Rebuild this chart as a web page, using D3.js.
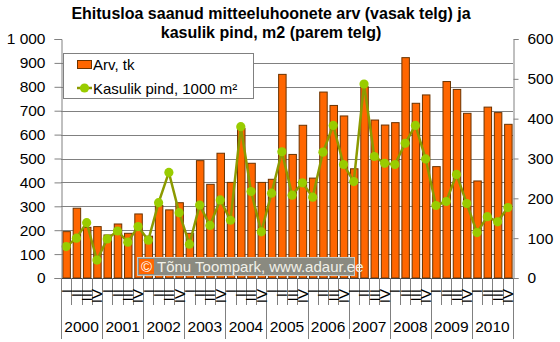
<!DOCTYPE html>
<html>
<head>
<meta charset="utf-8">
<script src="https://cdn.jsdelivr.net/npm/d3@7"></script>
<style>
  html, body { margin: 0; padding: 0; background: #fff; }
  svg { display: block; font-family: Arial, "Liberation Sans", sans-serif; }
</style>
</head>
<body>
<svg id="chart" width="560" height="342"></svg>
<script>
// Quarterly series, 2000–2010
const years = ["2000","2001","2002","2003","2004","2005","2006","2007","2008","2009","2010"];
const quarters = ["I","II","III","IV"];

// Number of non-residential buildings granted a building permit (left axis)
const arv = [
  194, 292, 212, 215,
  180, 226, 187, 268,
  175, 303, 285, 315,
  187, 491, 392, 522,
  400, 626, 480, 400,
  413, 852, 517, 639,
  418, 778, 722, 678,
  457, 800, 661, 640,
  650, 922, 731, 766,
  466, 822, 789, 689,
  406, 715, 692, 643
];

// Useful floor area, thousand m² (right axis)
const pind = [
  79, 100, 139, 45,
  98, 118, 90, 129,
  95, 189, 265, 164,
  85, 183, 132, 196,
  145, 380, 217, 116,
  213, 317, 208, 239,
  203, 316, 383, 285,
  242, 487, 305, 288,
  285, 338, 383, 299,
  182, 192, 260, 187,
  114, 154, 141, 177
];

const leftTicks = [0,100,200,300,400,500,600,700,800,900,1000];
const rightTicks = [0,100,200,300,400,500,600];

const titleLines = ["Ehitusloa saanud mitteeluhoonete arv (vasak telg) ja", "kasulik pind, m2 (parem telg)"];
const legendLabels = ["Arv, tk", "Kasulik pind, 1000 m\u00B2"];
const credit = "T\u00F5nu Toompark, www.adaur.ee";

const svg = d3.select("#chart");
const plot = { left: 61, right: 513, top: 39, bottom: 278 };

const idx = d3.range(arv.length);
const x = d3.scaleBand().domain(idx).range([plot.left, plot.right]).paddingInner(0.27).paddingOuter(0.135);
const yL = d3.scaleLinear().domain([0, 1000]).range([plot.bottom, plot.top]);
const yR = d3.scaleLinear().domain([0, 600]).range([plot.bottom, plot.top]);
const step = (plot.right - plot.left) / arv.length;

// Title
svg.append("g").selectAll("text").data(titleLines).join("text")
  .attr("x", 271).attr("y", (d, i) => 19 + i * 19)
  .attr("text-anchor", "middle")
  .attr("font-size", 16).attr("font-weight", "bold").attr("fill", "#000")
  .text(d => d);

// Horizontal gridlines
svg.append("g").selectAll("line").data(leftTicks.filter(v => v > 0 && v < 1000)).join("line")
  .attr("x1", plot.left).attr("x2", plot.right)
  .attr("y1", d => Math.round(yL(d)) + 0.5).attr("y2", d => Math.round(yL(d)) + 0.5)
  .attr("stroke", "#808080").attr("stroke-width", 1);

// Bars
svg.append("g").selectAll("rect").data(arv).join("rect")
  .attr("x", (d, i) => x(i) + 0.5)
  .attr("y", d => yL(d))
  .attr("width", x.bandwidth())
  .attr("height", d => yL(0) - yL(d))
  .attr("fill", "#ff6600")
  .attr("stroke", "#6b3300").attr("stroke-width", 1);

// Credit box
const cg = svg.append("g");
cg.append("rect").attr("x", 137.5).attr("y", 257.5).attr("width", 217).attr("height", 18)
  .attr("fill", "#8a8a80").attr("stroke", "#c8c8c0").attr("stroke-width", 1);
cg.append("rect").attr("x", 139).attr("y", 259).attr("width", 15).attr("height", 15).attr("fill", "#ff6600");
cg.append("text").attr("x", 146.5).attr("y", 271.5).attr("text-anchor", "middle")
  .attr("font-size", 15).attr("fill", "#fff").text("\u00A9");
cg.append("text").attr("x", 157).attr("y", 272).attr("font-size", 15).attr("fill", "#f0f0e8").text(credit);

// Line series
const line = d3.line().x((d, i) => x(i) + x.bandwidth() / 2).y(d => yR(d));
svg.append("path").datum(pind)
  .attr("d", line).attr("fill", "none")
  .attr("stroke", "#8c9a00").attr("stroke-width", 2.5).attr("stroke-linejoin", "round");
svg.append("g").selectAll("circle").data(pind).join("circle")
  .attr("cx", (d, i) => x(i) + x.bandwidth() / 2)
  .attr("cy", d => yR(d))
  .attr("r", 4.6)
  .attr("fill", "#99cc00");

// Left axis
const axL = svg.append("g").attr("transform", `translate(${plot.left + 0.5},0)`)
  .call(d3.axisLeft(yL).tickValues(leftTicks).tickSize(7).tickPadding(9)
    .tickFormat(d => d3.format(",")(d).replace(",", " ")));
axL.select(".domain").attr("stroke", "#808080");
axL.selectAll(".tick line").attr("stroke", "#808080");
axL.selectAll("text").attr("font-size", 15.5).attr("fill", "#000").attr("font-family", "Arial, 'Liberation Sans', sans-serif");

// Right axis
const axR = svg.append("g").attr("transform", `translate(${plot.right + 0.5},0)`)
  .call(d3.axisRight(yR).tickValues(rightTicks).tickSize(5).tickPadding(9));
axR.select(".domain").attr("stroke", "#808080");
axR.selectAll(".tick line").attr("stroke", "#808080");
axR.selectAll("text").attr("font-size", 15.5).attr("fill", "#000").attr("font-family", "Arial, 'Liberation Sans', sans-serif");

// Category axis: baseline, quarter ticks, year separators
const xg = svg.append("g");
xg.append("line").attr("x1", plot.left).attr("x2", plot.right + 1)
  .attr("y1", plot.bottom + 0.5).attr("y2", plot.bottom + 0.5).attr("stroke", "#404040");
xg.selectAll("line.q").data(d3.range(arv.length + 1)).join("line").attr("class", "q")
  .attr("x1", d => Math.round(plot.left + d * step) + 0.5)
  .attr("x2", d => Math.round(plot.left + d * step) + 0.5)
  .attr("y1", plot.bottom).attr("y2", d => d % 4 === 0 ? 339 : 305)
  .attr("stroke", "#808080");

// Quarter labels (rotated)
xg.selectAll("text.q").data(idx).join("text").attr("class", "q")
  .attr("transform", i => `translate(${x(i) + x.bandwidth() / 2},289) rotate(-90)`)
  .attr("text-anchor", "end").attr("dy", "0.36em")
  .attr("font-size", 15).attr("fill", "#000")
  .text(i => quarters[i % 4]);

// Year labels
xg.selectAll("text.y").data(years).join("text").attr("class", "y")
  .attr("x", (d, i) => plot.left + (i * 4 + 2) * step)
  .attr("y", 332).attr("text-anchor", "middle")
  .attr("font-size", 15.5).attr("fill", "#000")
  .text(d => d);

// Legend
const lg = svg.append("g");
lg.append("rect").attr("x", 63.5).attr("y", 53.5).attr("width", 190).attr("height", 45)
  .attr("fill", "#fff").attr("stroke", "#808080");
lg.append("rect").attr("x", 77.5).attr("y", 60.5).attr("width", 14).attr("height", 8)
  .attr("fill", "#ff6600").attr("stroke", "#6b3300");
lg.append("line").attr("x1", 77).attr("x2", 92).attr("y1", 88).attr("y2", 88)
  .attr("stroke", "#8c9a00").attr("stroke-width", 2.5);
lg.append("circle").attr("cx", 84.5).attr("cy", 88).attr("r", 4.6).attr("fill", "#99cc00");
lg.selectAll("text").data(legendLabels).join("text")
  .attr("x", 93).attr("y", (d, i) => 70 + i * 24)
  .attr("font-size", 15).attr("fill", "#000")
  .text(d => d);
</script>
</body>
</html>
